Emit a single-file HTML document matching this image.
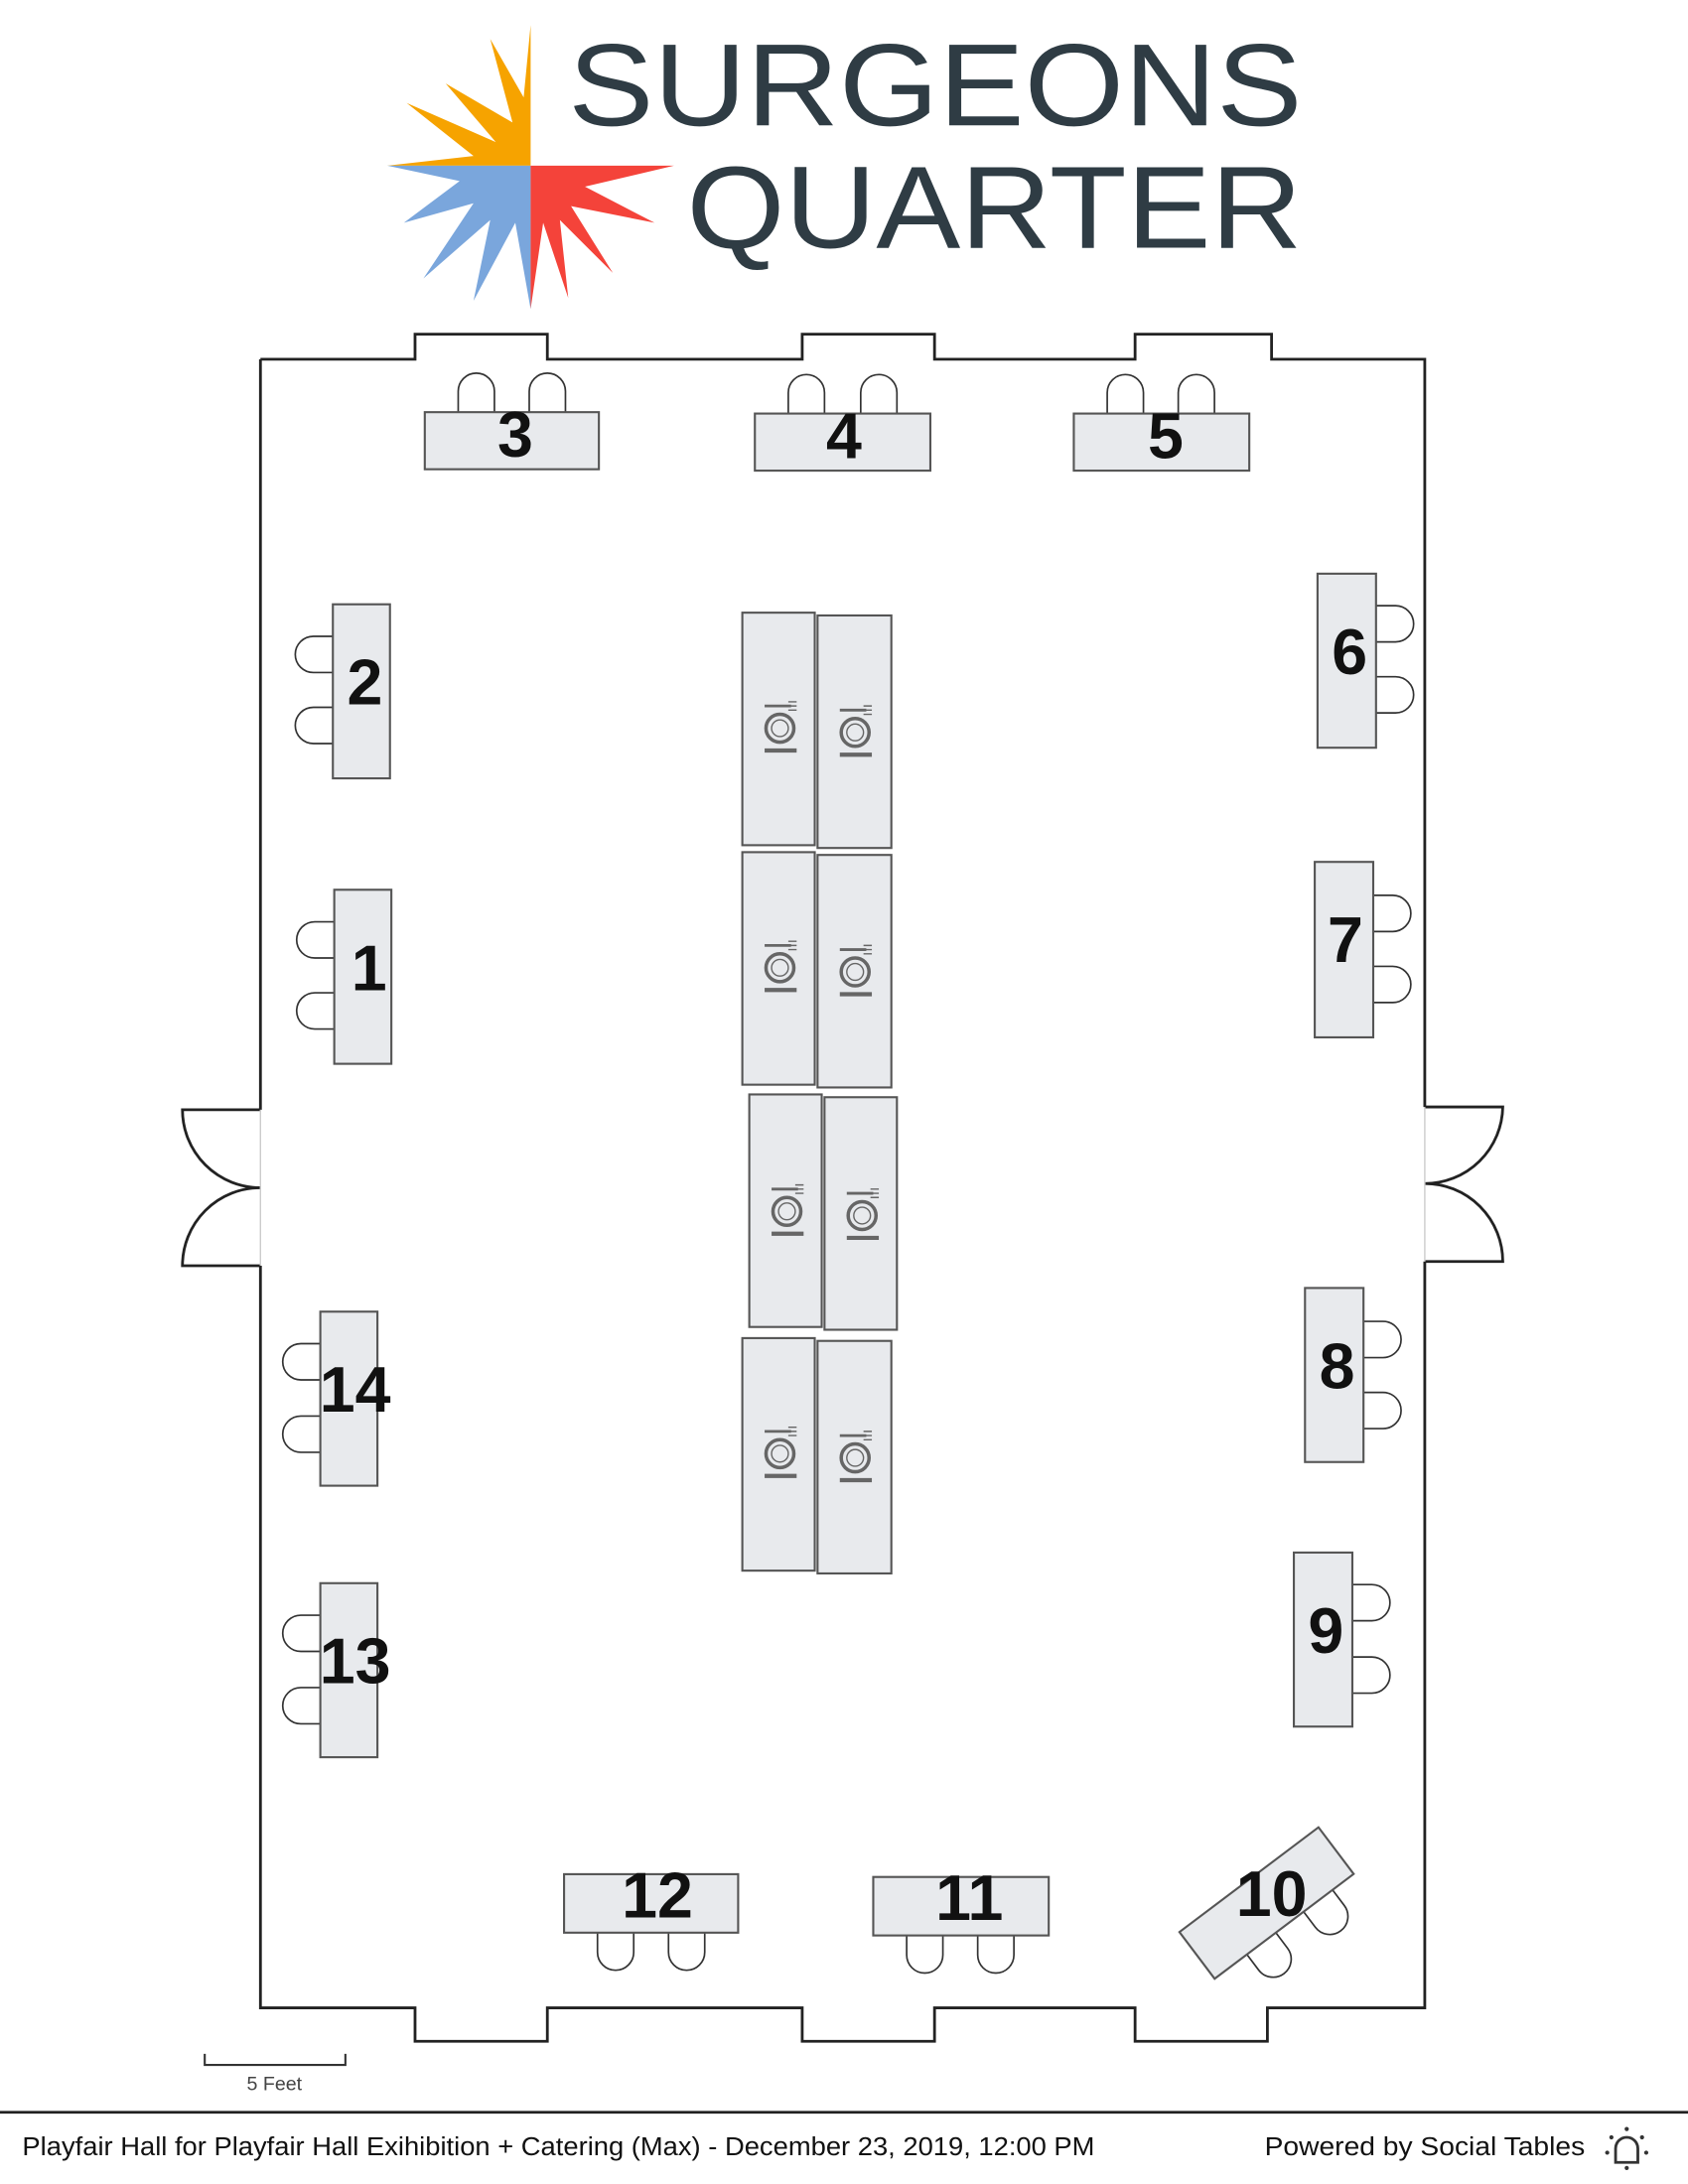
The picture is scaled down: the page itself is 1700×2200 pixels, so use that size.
<!DOCTYPE html>
<html><head><meta charset="utf-8"><style>html,body{margin:0;padding:0;background:#fff}svg{display:block}</style></head>
<body>
<svg width="1700" height="2200" viewBox="0 0 1212 1568.5" preserveAspectRatio="none" xmlns="http://www.w3.org/2000/svg" font-family="Liberation Sans, sans-serif">
<!-- logo -->
<g>
<path d="M381,119 L381,18 L376,70 L352,28 L368,88 L320,60 L356,102 L292,74 L340,112 L278,119 Z" fill="#f6a300"/>
<path d="M381,119 L278,119 L330,130 L290,160 L340,146 L304,200 L352,158 L340,216 L370,160 L381,222 Z" fill="#7aa6dc"/>
<path d="M381,119 L381,222 L390,160 L408,214 L402,158 L440,196 L410,148 L470,160 L420,134 L484,119 Z" fill="#f4433a"/>
<text x="408" y="90" font-size="84" fill="#2f3c44" textLength="527" lengthAdjust="spacingAndGlyphs">SURGEONS</text>
<text x="493" y="178" font-size="84" fill="#2f3c44" textLength="442" lengthAdjust="spacingAndGlyphs">QUARTER</text>
</g>
<!-- room outline -->
<g fill="none" stroke="#222" stroke-width="2">
<path d="M187,258 L298,258 L298,240 L393,240 L393,258 L576,258 L576,240 L671,240 L671,258 L815,258 L815,240 L913,240 L913,258 L1023,258 L1023,795 M1023,906 L1023,1442 L910,1442 L910,1466 L815,1466 L815,1442 L671,1442 L671,1466 L576,1466 L576,1442 L393,1442 L393,1466 L298,1466 L298,1442 L187,1442 L187,909 M187,797 L187,258"/>
<path d="M187,797 L131,797 A56,56 0 0 0 187,853 M187,909 L131,909 A56,56 0 0 1 187,853"/>
<path d="M1023,795 L1079,795 A56,56 0 0 1 1023,850 M1023,906 L1079,906 A56,56 0 0 0 1023,850"/>
</g>
<line x1="187" y1="797" x2="187" y2="909" stroke="#ccc" stroke-width="1"/>
<line x1="1023" y1="795" x2="1023" y2="906" stroke="#ccc" stroke-width="1"/>
<!-- chairs -->
<g fill="#fff" stroke="#333" stroke-width="1.2">
<path d="M329,296 V281 A13,13 0 0 1 355,281 V296"/><path d="M380,296 V281 A13,13 0 0 1 406,281 V296"/>
<path d="M566,297 V282 A13,13 0 0 1 592,282 V297"/><path d="M618,297 V282 A13,13 0 0 1 644,282 V297"/>
<path d="M795,297 V282 A13,13 0 0 1 821,282 V297"/><path d="M846,297 V282 A13,13 0 0 1 872,282 V297"/>
<path d="M239,457 H225 A13,13 0 0 0 225,483 H239"/><path d="M239,508 H225 A13,13 0 0 0 225,534 H239"/>
<path d="M240,662 H226 A13,13 0 0 0 226,688 H240"/><path d="M240,713 H226 A13,13 0 0 0 226,739 H240"/>
<path d="M230,965 H216 A13,13 0 0 0 216,991 H230"/><path d="M230,1017 H216 A13,13 0 0 0 216,1043 H230"/>
<path d="M230,1160 H216 A13,13 0 0 0 216,1186 H230"/><path d="M230,1212 H216 A13,13 0 0 0 216,1238 H230"/>
<path d="M988,435 H1002 A13,13 0 0 1 1002,461 H988"/><path d="M988,486 H1002 A13,13 0 0 1 1002,512 H988"/>
<path d="M986,643 H1000 A13,13 0 0 1 1000,669 H986"/><path d="M986,694 H1000 A13,13 0 0 1 1000,720 H986"/>
<path d="M979,949 H993 A13,13 0 0 1 993,975 H979"/><path d="M979,1000 H993 A13,13 0 0 1 993,1026 H979"/>
<path d="M971,1138 H985 A13,13 0 0 1 985,1164 H971"/><path d="M971,1190 H985 A13,13 0 0 1 985,1216 H971"/>
<path d="M429,1388 V1402 A13,13 0 0 0 455,1402 V1388"/><path d="M480,1388 V1402 A13,13 0 0 0 506,1402 V1388"/>
<path d="M651,1390 V1404 A13,13 0 0 0 677,1404 V1390"/><path d="M702,1390 V1404 A13,13 0 0 0 728,1404 V1390"/>
<g transform="translate(909,1367) rotate(-37)">
<path d="M-33,21 V35 A13,13 0 0 0 -7,35 V21"/><path d="M18,21 V35 A13,13 0 0 0 44,35 V21"/>
</g>
</g>
<!-- tables -->
<g fill="#e8eaed" stroke="#555" stroke-width="1.5">
<rect x="305" y="296" width="125" height="41"/>
<rect x="542" y="297" width="126" height="41"/>
<rect x="771" y="297" width="126" height="41"/>
<rect x="239" y="434" width="41" height="125"/>
<rect x="240" y="639" width="41" height="125"/>
<rect x="230" y="942" width="41" height="125"/>
<rect x="230" y="1137" width="41" height="125"/>
<rect x="946" y="412" width="42" height="125"/>
<rect x="944" y="619" width="42" height="126"/>
<rect x="937" y="925" width="42" height="125"/>
<rect x="929" y="1115" width="42" height="125"/>
<rect x="405" y="1346" width="125" height="42"/>
<rect x="627" y="1348" width="126" height="42"/>
<rect x="-62" y="-21" width="125" height="42" transform="translate(909,1367) rotate(-37)"/>
<rect x="533" y="440" width="52" height="167"/><rect x="587" y="442" width="53" height="167"/>
<rect x="533" y="612" width="52" height="167"/><rect x="587" y="614" width="53" height="167"/>
<rect x="538" y="786" width="52" height="167"/><rect x="592" y="788" width="52" height="167"/>
<rect x="533" y="961" width="52" height="167"/><rect x="587" y="963" width="53" height="167"/>
</g>
<defs><g id="pl" fill="none" stroke="#666"><line x1="-11" y1="-16" x2="8" y2="-16" stroke-width="2"/><path d="M6,-19 H12 M6,-16 H12 M6,-13 H12" stroke-width="1"/><circle r="10" stroke-width="2.5"/><circle r="6" stroke-width="1"/><path d="M-11,16 H12" stroke-width="3"/></g></defs>
<use href="#pl" x="560" y="523"/><use href="#pl" x="614" y="526"/>
<use href="#pl" x="560" y="695"/><use href="#pl" x="614" y="698"/>
<use href="#pl" x="565" y="870"/><use href="#pl" x="619" y="873"/>
<use href="#pl" x="560" y="1044"/><use href="#pl" x="614" y="1047"/>
<g font-size="46" font-weight="bold" fill="#111" text-anchor="middle">
<text x="370" y="328">3</text><text x="606" y="329">4</text><text x="837" y="329">5</text>
<text x="262" y="506">2</text><text x="265" y="711">1</text><text x="255" y="1014">14</text><text x="255" y="1209">13</text>
<text x="969" y="484">6</text><text x="966" y="691">7</text><text x="960" y="997">8</text><text x="952" y="1187">9</text>
<text x="472" y="1377">12</text><text x="696" y="1379">11</text><text x="913" y="1376">10</text>
</g>
<path d="M147,1475 V1483 H248 V1475" fill="none" stroke="#333" stroke-width="1.5"/>
<text x="197" y="1501" font-size="14" fill="#444" text-anchor="middle">5 Feet</text>
<line x1="0" y1="1517" x2="1212" y2="1517" stroke="#222" stroke-width="2"/>
<text x="16" y="1548" font-size="18.5" fill="#111" textLength="770" lengthAdjust="spacingAndGlyphs">Playfair Hall for Playfair Hall Exihibition + Catering (Max) - December 23, 2019, 12:00 PM</text>
<text x="908" y="1548" font-size="18.5" fill="#111" textLength="230" lengthAdjust="spacingAndGlyphs">Powered by Social Tables</text>
<g fill="none" stroke="#333" stroke-width="2"><path d="M1160,1553 V1543 A8,8 0 0 1 1176,1543 V1553 Z"/></g>
<g fill="#333"><circle cx="1168" cy="1529" r="1.5"/><circle cx="1157" cy="1535" r="1.5"/><circle cx="1179" cy="1535" r="1.5"/><circle cx="1154" cy="1546" r="1.5"/><circle cx="1182" cy="1546" r="1.5"/><circle cx="1168" cy="1557" r="1.5"/></g>
</svg>
</body></html>
